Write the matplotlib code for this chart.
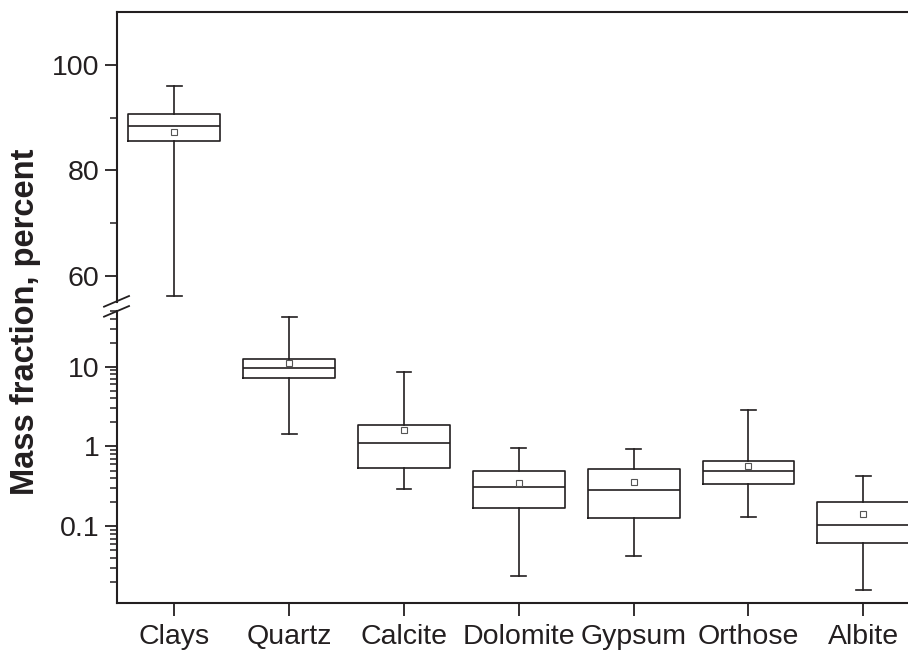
import matplotlib
matplotlib.use("Agg")
import matplotlib.pyplot as plt
from matplotlib.ticker import FixedLocator, LogLocator, NullFormatter, FuncFormatter, NullLocator

categories = ["Clays", "Quartz", "Calcite", "Dolomite", "Gypsum", "Orthose", "Albite"]
whisker_low = [56.2, 1.45, 0.29, 0.0237, 0.042, 0.132, 0.016]
q1 = [85.5, 7.2, 0.54, 0.168, 0.127, 0.335, 0.062]
median = [88.4, 9.6, 1.10, 0.307, 0.288, 0.497, 0.104]
q3 = [90.7, 12.5, 1.88, 0.487, 0.516, 0.663, 0.202]
whisker_high = [95.9, 41.8, 8.59, 0.96, 0.936, 2.88, 0.427]
mean = [87.2, 11.0, 1.63, 0.352, 0.355, 0.574, 0.144]

plt.rcParams['font.family'] = ['Liberation Sans', 'DejaVu Sans']

LC = '#231f20'
fig = plt.figure(figsize=(9.08, 6.52), dpi=100)
left = 117 / 908
width = 1 - left
ax_top = fig.add_axes([left, 1 - 302.4 / 652, width, (302.4 - 12) / 652])
ax_bot = fig.add_axes([left, 1 - 602.7 / 652, width, (602.7 - 311) / 652])

stats = []
for i, c in enumerate(categories):
    stats.append(dict(label=c, whislo=whisker_low[i], q1=q1[i], med=median[i],
                      q3=q3[i], whishi=whisker_high[i], mean=mean[i], fliers=[]))

positions = list(range(1, len(categories) + 1))
for ax in (ax_top, ax_bot):
    ax.bxp(stats, positions=positions, widths=0.8, showmeans=True, showfliers=False,
           boxprops=dict(color=LC, linewidth=1.2),
           medianprops=dict(color=LC, linewidth=1.2),
           whiskerprops=dict(color=LC, linewidth=1.2),
           capprops=dict(color=LC, linewidth=1.2),
           capwidths=0.13,
           meanprops=dict(marker='s', markerfacecolor='white', markeredgecolor='#555555',
                          markersize=5, markeredgewidth=0.8))
    ax.set_xlim(0.5, 7.39)
    for s in ax.spines.values():
        s.set_linewidth(1.5)
        s.set_color(LC)
    ax.spines['right'].set_visible(False)
    ax.tick_params(axis='both', which='major', direction='out', length=9, width=1.3,
                   color=LC, labelsize=20.5, labelcolor=LC)
    ax.tick_params(axis='both', which='minor', direction='out', length=5, width=1.1, color=LC)

# top panel
ax_top.set_ylim(55, 110)
ax_top.yaxis.set_major_locator(FixedLocator([60, 80, 100]))
ax_top.yaxis.set_minor_locator(FixedLocator([70, 90]))
ax_top.spines['bottom'].set_visible(False)
ax_top.xaxis.set_ticks_position('none')
ax_top.tick_params(axis='x', labelbottom=False, bottom=False, top=False)

# bottom panel
ax_bot.set_yscale('log')
ax_bot.set_ylim(0.011, 50)
ax_bot.yaxis.set_major_locator(FixedLocator([0.1, 1, 10]))
ax_bot.yaxis.set_major_formatter(FuncFormatter(lambda v, p: f"{v:g}"))
ax_bot.yaxis.set_minor_locator(LogLocator(base=10, subs=[2, 3, 4, 5, 6, 7, 8, 9]))
ax_bot.yaxis.set_minor_formatter(NullFormatter())
ax_bot.spines['top'].set_visible(False)
ax_bot.set_xticks(positions)
ax_bot.set_xticklabels(categories)
ax_bot.tick_params(axis='x', which='major', pad=6)
ax_bot.xaxis.set_minor_locator(NullLocator())

# break marks on left spine
ax_top.plot([-0.0164, 0.0152], [-0.0148, 0.022], transform=ax_top.transAxes,
            color=LC, lw=1.3, clip_on=False)
ax_bot.plot([-0.0164, 0.0152], [1 - 0.0195, 1 + 0.017], transform=ax_bot.transAxes,
            color=LC, lw=1.3, clip_on=False)

fig.text(26 / 908, 1 - 322 / 652, "Mass fraction, percent", rotation=90, fontsize=23.5,
         fontweight='bold', ha='center', va='center', color=LC)

fig.savefig("out.png", dpi=100)
